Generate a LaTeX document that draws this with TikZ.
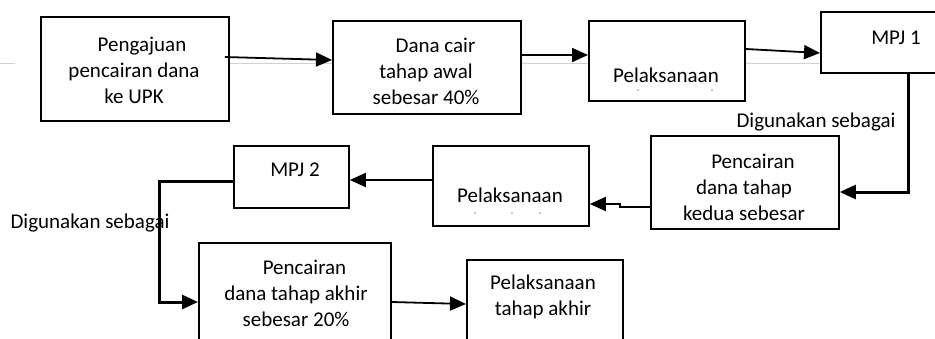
\documentclass[tikz,border=0pt]{standalone}
\usepackage{fontspec}
\setmainfont{Carlito}
\usetikzlibrary{arrows.meta}
\tikzset{
  box/.style={draw=black, line width=1.8pt, fill=white, rectangle, inner sep=0pt, anchor=north west},
  txt/.style={inner sep=0pt, align=center, font=\fontsize{21}{26}\selectfont},
  conn/.style={line width=1.8pt, -{Triangle[length=16pt,width=14pt]}},
  thickconn/.style={line width=3pt, -{Triangle[length=16pt,width=14pt]}},
  ghost/.style={draw=black!18, line width=0.8pt},
  tick/.style={fill=black!45}
}
\begin{document}
\begin{tikzpicture}[x=1pt,y=-1pt]
\useasboundingbox (0,0) rectangle (935,338);
\clip (0,0) rectangle (935,338);
% faint guide line
\draw[ghost] (0,63) -- (15,63);
\draw[ghost] (228,63) -- (820,63);
% boxes
\node[box, minimum width=188pt, minimum height=104pt] (A) at (40,16) {};
\node[box, minimum width=188pt, minimum height=93pt] (B) at (332,20) {};
\node[box, minimum width=156pt, minimum height=80pt] (C) at (588,20) {};
\node[box, minimum width=140pt, minimum height=61pt] (D) at (820,11) {};
\node[box, minimum width=188pt, minimum height=93pt] (E) at (650,135) {};
\node[box, minimum width=156pt, minimum height=80pt] (F) at (432,145) {};
\node[box, minimum width=115pt, minimum height=62pt] (G) at (233,145) {};
\node[box, minimum width=192pt, minimum height=110pt] (H) at (198,242) {};
\node[box, minimum width=156pt, minimum height=95pt] (I) at (466,259) {};
% texts
\node[txt] (tA) at (134,70) {\hspace*{16pt}Pengajuan\\pencairan dana\\ke UPK};
\node[txt] (tB) at (426,71) {\hspace*{19pt}Dana cair\\tahap awal\\sebesar 40\%};
\node[txt] (tC) at (666,75) {Pelaksanaan};
\node[txt] (tD) at (896,38) {MPJ 1};
\node[txt] (tE) at (744,187) {\hspace*{18pt}Pencairan\\dana tahap\\kedua sebesar};
\node[txt] (tF) at (510,195) {Pelaksanaan};
\node[txt] (tG) at (295,170) {MPJ 2};
\node[txt] (tH) at (296,293) {\hspace*{17pt}Pencairan\\dana tahap akhir\\sebesar 20\%};
\node[txt] (tI) at (543,297) {Pelaksanaan\\tahap akhir};
\node[txt] (l1) at (816,122) {Digunakan sebagai};
\node[txt] (l2) at (90,223) {Digunakan sebagai};
% truncated text marks
\fill[tick] (638,90) circle (0.8pt);
\fill[tick] (712,90) circle (0.8pt);
\fill[tick] (475,213) circle (0.8pt);
\fill[tick] (512,213) circle (0.8pt);
\fill[tick] (540,213) circle (0.8pt);
% helper coordinates
\coordinate (ab1) at (0,57);
\coordinate (ab2) at (0,60);
\coordinate (bc) at (0,55);
\coordinate (cd1) at (0,49);
\coordinate (cd2) at (0,53);
\coordinate (de) at (908,192);
\coordinate (ef1) at (620,207);
\coordinate (ef2) at (620,204);
\coordinate (fg) at (0,180);
\coordinate (gh1) at (159,181);
\coordinate (gh2) at (159,302);
\coordinate (hi1) at (0,302);
\coordinate (hi2) at (0,304);
% connectors
\draw[conn] ([xshift=-5pt]A.east |- ab1) -- (B.west |- ab2);
\draw[conn] (B.east |- bc) -- (C.west |- bc);
\draw[conn] (C.east |- cd1) -- (D.west |- cd2);
\draw[thickconn] (D.south -| de) -- (de) -- (E.east |- de);
\draw[conn] (E.west |- ef1) -- (ef1) -- (ef2) -- (F.east |- ef2);
\draw[conn] (F.west |- fg) -- (G.east |- fg);
\draw[thickconn] (G.west |- gh1) -- (gh1) -- (gh2) -- (H.west |- gh2);
\draw[conn] (H.east |- hi1) -- (I.west |- hi2);
\end{tikzpicture}
\end{document}
